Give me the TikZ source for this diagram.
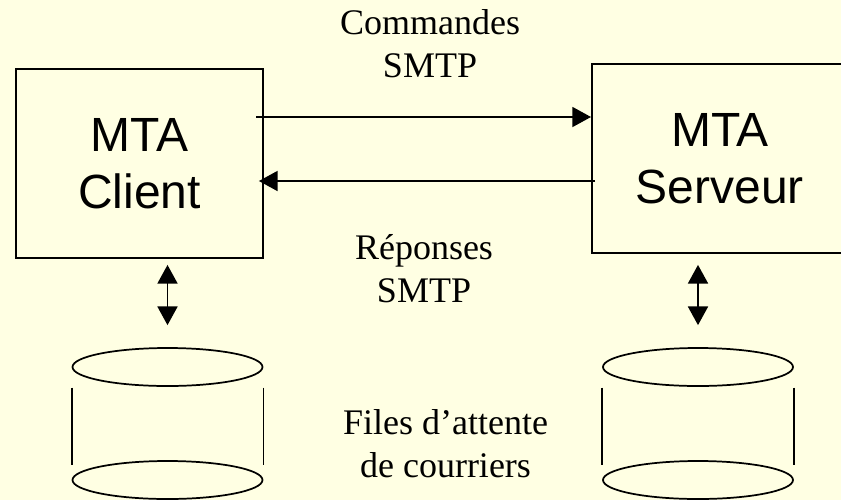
\documentclass[tikz,border=0pt]{standalone}
\usepackage{fontspec}
\setmainfont{Liberation Serif}
\newfontfamily\arialfont{Liberation Sans}
\usetikzlibrary{arrows.meta,shapes.geometric,calc}
\definecolor{fondjaune}{HTML}{FFFFE3}

\begin{document}
\begin{tikzpicture}[x=0.75pt,y=-0.75pt,
	mta/.style={draw, line width=1.4pt, minimum height=141.75pt, inner sep=0pt,
		font=\arialfont\fontsize{36}{42.4}\selectfont, align=center},
	fleche/.style={line width=1.3pt, -{Triangle[length=14pt,width=15pt]}},
	dfleche/.style={line width=1.3pt, {Triangle[length=14pt,width=15pt]}-{Triangle[length=14pt,width=15pt]}},
	disque/.style={draw, ellipse, line width=1.3pt, minimum width=142.5pt, minimum height=28.5pt, inner sep=0pt},
	legende/.style={font=\fontsize{27}{32}\selectfont, align=center}]
	
	\fill[fondjaune] (0,0) rectangle (841,500);
	\useasboundingbox (0,0) rectangle (841,500);
	
	\node[mta, minimum width=185.25pt] (client) at (139.5,163.5) {MTA\\Client};
	\node[mta, minimum width=192pt, anchor=west] (serveur) at (591,158.8) {MTA\\Serveur};
	
	\coordinate (depart) at (256,117);
	\coordinate (retour) at (595,181);
	
	\draw[fleche] (depart) -- (depart -| serveur.west);
	\draw[fleche, shorten >=-3.75pt] (retour) -- (retour -| client.east);
	
	\node[disque] (fileA) at (167.5,367) {};
	\node[disque] (fileA2) at (167.5,480) {};
	\node[disque] (fileB) at (698,367) {};
	\node[disque] (fileB2) at (698,480) {};
	
	\draw[line width=1.3pt] ([yshift=-15.5pt]fileA.west) -- ([yshift=11.25pt]fileA2.west);
	\draw[line width=1.3pt] ([yshift=-15.5pt]fileA.east) -- ([yshift=11.25pt]fileA2.east);
	\draw[line width=1.3pt] ([yshift=-15.5pt]fileB.west) -- ([yshift=11.25pt]fileB2.west);
	\draw[line width=1.3pt] ([yshift=-15.5pt]fileB.east) -- ([yshift=11.25pt]fileB2.east);
	
	\draw[dfleche, shorten <=4.5pt, shorten >=16.5pt] (fileA.north |- client.south) -- (fileA.north);
	\draw[dfleche, shorten <=8pt, shorten >=16.5pt] (fileB.north |- serveur.south) -- (fileB.north);
	
	\node[legende] (cmd) at (430,43.5) {Commandes\\SMTP};
	\node[legende] (rep) at (424,268.5) {Réponses\\SMTP};
	\node[legende] (files) at (445.5,443.5) {Files d’attente\\de courriers};
	
\end{tikzpicture}
\end{document}
